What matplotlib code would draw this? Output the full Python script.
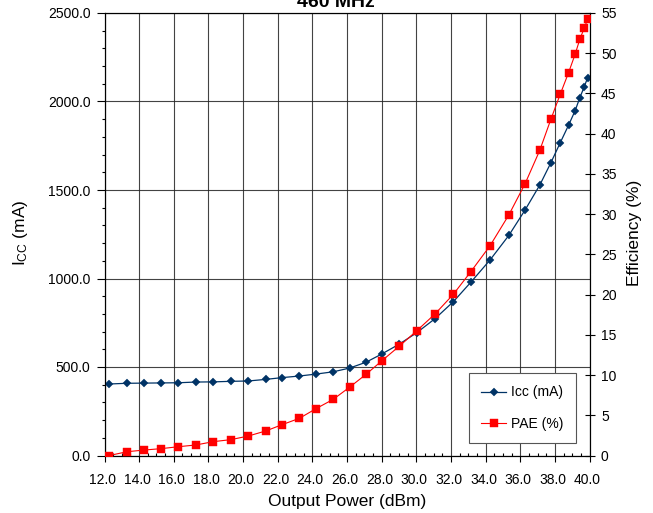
import matplotlib
matplotlib.use("Agg")
import matplotlib.pyplot as plt
from matplotlib.ticker import MultipleLocator, FormatStrFormatter
from matplotlib.transforms import ScaledTranslation

plt.rcParams['font.family'] = ['Liberation Sans', 'DejaVu Sans']
plt.rcParams['mathtext.fontset'] = 'custom'
plt.rcParams['mathtext.rm'] = 'Liberation Sans'
plt.rcParams['mathtext.it'] = 'Liberation Sans'

# Output power sweep at 460 MHz
pout_dbm = [12.28, 13.30, 14.30, 15.26, 16.26, 17.28, 18.28, 19.29, 20.30, 21.31,
            22.25, 23.25, 24.21, 25.21, 26.15, 27.10, 28.00, 29.03, 30.03, 31.08,
            32.14, 33.15, 34.26, 35.34, 36.28, 37.13, 37.77, 38.31, 38.79, 39.17,
            39.44, 39.70, 39.89]

icc_ma = [404, 408, 409, 410, 411, 415, 416, 419, 421, 430,
          440, 449, 460, 473, 494, 527, 573, 630, 694, 773,
          869, 979, 1105, 1243, 1387, 1528, 1654, 1767, 1866, 1948,
          2021, 2084, 2134]

pae_pct = [0.0, 0.47, 0.68, 0.85, 1.09, 1.31, 1.72, 1.97, 2.42, 3.05,
           3.83, 4.62, 5.82, 6.99, 8.49, 10.09, 11.75, 13.61, 15.51, 17.59,
           20.04, 22.85, 26.08, 29.89, 33.78, 37.94, 41.79, 44.90, 47.58, 49.87,
           51.73, 53.14, 54.22]

W, H = 653, 513
fig = plt.figure(figsize=(W / 100, H / 100), dpi=100)
ax = fig.add_axes([104.5 / W, 1 - 455.5 / H, 485 / W, 442.5 / H])
ax2 = ax.twinx()

navy = '#003366'
red = '#ff0000'

l1, = ax.plot(pout_dbm, icc_ma, color=navy, lw=0.9, marker='D', ms=3.8,
              mec=navy, mfc=navy, mew=0.3, label='Icc (mA)', zorder=3)
l2, = ax2.plot(pout_dbm, pae_pct, color=red, lw=0.8, marker='s', ms=5.2,
               mec=red, mfc=red, mew=0.3, label='PAE (%)', zorder=3)

ax.set_xlim(12, 40)
ax.set_ylim(0, 2500)
ax2.set_ylim(0, 55)

ax.xaxis.set_major_locator(MultipleLocator(2))
ax.xaxis.set_minor_locator(MultipleLocator(0.5))
ax.xaxis.set_major_formatter(FormatStrFormatter('%.1f'))
ax.yaxis.set_major_locator(MultipleLocator(500))
ax.yaxis.set_minor_locator(MultipleLocator(100))
ax.yaxis.set_major_formatter(FormatStrFormatter('%.1f'))
ax2.yaxis.set_major_locator(MultipleLocator(5))
ax2.yaxis.set_major_formatter(FormatStrFormatter('%d'))

ax.grid(True, which='major', color='#222222', lw=0.8, alpha=0.85)
ax.set_axisbelow(True)

for a in (ax, ax2):
    for s in a.spines.values():
        s.set_color('black')
        s.set_linewidth(0.8)

ax.tick_params(axis='x', which='major', direction='out', length=4.5, width=0.8,
               labelsize=10, pad=8)
ax.tick_params(axis='x', which='minor', direction='in', length=2.5, width=0.8)
ax.tick_params(axis='y', which='major', direction='out', length=6, width=0.8,
               labelsize=10, pad=4)
ax.tick_params(axis='y', which='minor', direction='out', length=2.5, width=0.8)
ax2.tick_params(axis='y', which='major', direction='inout', length=6.5, width=0.8,
                labelsize=10, pad=5)

# nudge the x tick labels slightly left
shift = ScaledTranslation(-1.5 / 72, 0, fig.dpi_scale_trans)
for lbl in ax.get_xticklabels():
    lbl.set_transform(lbl.get_transform() + shift)

leg = ax2.legend(handles=[l1, l2], loc='lower right',
                 bbox_to_anchor=(0.972, 0.0276), bbox_transform=ax.transAxes,
                 fontsize=10, frameon=True, fancybox=False, framealpha=1,
                 edgecolor='#555555', handlelength=1.8, handletextpad=0.36,
                 labelspacing=1.25, borderpad=0.9, borderaxespad=0)
leg.get_frame().set_linewidth(0.8)

fig.text(336 / W, 1 - 6.7 / H, '460 MHz', ha='center', va='baseline',
         fontsize=14, fontweight='bold')
fig.text(347 / W, 1 - 505.7 / H, 'Output Power (dBm)', ha='center',
         va='baseline', fontsize=12.5)
fig.text(21 / W, 1 - 233 / H, r'I$_{\mathrm{CC}}$ (mA)', ha='center',
         va='center', rotation=90, fontsize=12.5)
fig.text(634.5 / W, 1 - 233 / H, 'Efficiency (%)', ha='center', va='center',
         rotation=90, fontsize=12.5)

fig.savefig('out.png', dpi=100)
